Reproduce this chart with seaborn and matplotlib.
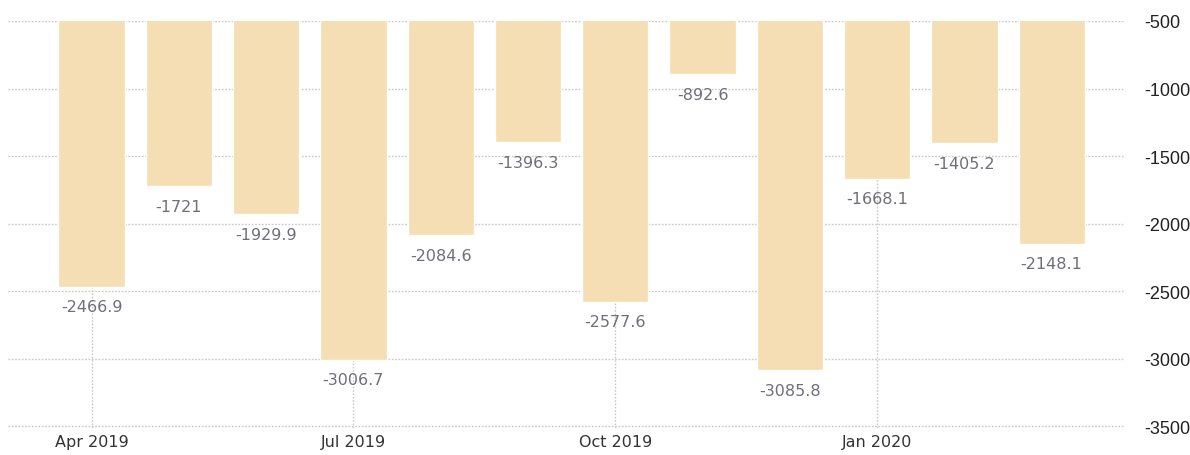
import numpy as np
import pandas as pd
import matplotlib
matplotlib.use('Agg')
import matplotlib.pyplot as plt
import seaborn as sns

months = ['Apr 2019', 'May 2019', 'Jun 2019', 'Jul 2019', 'Aug 2019', 'Sep 2019',
          'Oct 2019', 'Nov 2019', 'Dec 2019', 'Jan 2020', 'Feb 2020', 'Mar 2020']
values = [-2466.9, -1721, -1929.9, -3006.7, -2084.6, -1396.3,
          -2577.6, -892.6, -3085.8, -1668.1, -1405.2, -2148.1]
labels = ['-2466.9', '-1721', '-1929.9', '-3006.7', '-2084.6', '-1396.3',
          '-2577.6', '-892.6', '-3085.8', '-1668.1', '-1405.2', '-2148.1']
xtick_labels = ['Apr 2019', 'Jul 2019', 'Oct 2019', 'Jan 2020']
yticks = [-500, -1000, -1500, -2000, -2500, -3000, -3500]

df = pd.DataFrame({'month': months, 'value': values})

sns.set_style('white')
plt.rcParams['font.family'] = ['DejaVu Sans']

fig = plt.figure(figsize=(11.9, 4.56), dpi=100)
ax = fig.add_axes([8 / 1190, 27 / 456, 1117 / 1190, 407 / 456])

# bars start at 0 and get clipped at -500 by the ylim
sns.barplot(data=df, x='month', y='value', color='#F5DEB3', saturation=1,
            width=0.76, ax=ax, zorder=2)

ax.set_ylim(-3512, -500)
ax.set_xlim(-0.957, 11.84)

# value labels under each bar
for i, (v, t) in enumerate(zip(values, labels)):
    ax.annotate(t, (i, v), xytext=(0, -14.5), textcoords='offset points',
                ha='center', va='center', fontsize=11.5, color='#6f6f78')

ax.set_xticks([months.index(m) for m in xtick_labels])
ax.set_xticklabels(xtick_labels, fontsize=11.5, color='#333333')
ax.yaxis.tick_right()
ax.set_yticks(yticks)
ax.set_yticklabels([str(y) for y in yticks], fontsize=13, color='#222222',
                   family='Liberation Sans')
ax.tick_params(axis='y', length=0, pad=14)
ax.tick_params(axis='x', length=3, color='#cccccc', width=1, pad=1)

ax.grid(True, color='#c8c8c8', linestyle=(0, (1.2, 1.2)), linewidth=1, zorder=0)
ax.set_axisbelow(True)
sns.despine(ax=ax, left=True, right=True, top=True, bottom=True)
ax.set_xlabel('')
ax.set_ylabel('')

fig.savefig('out.png', dpi=100)
